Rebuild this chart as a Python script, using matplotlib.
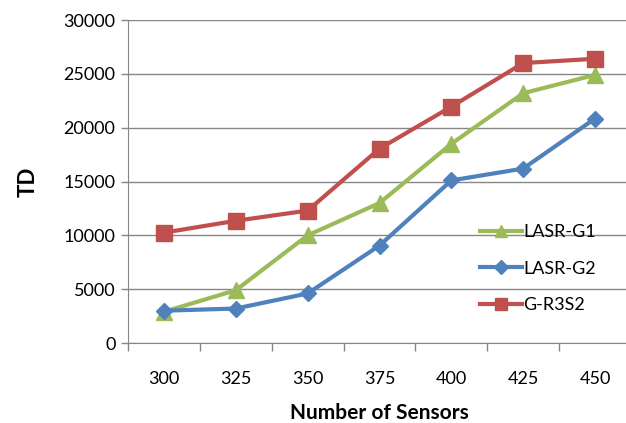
import matplotlib
matplotlib.use("Agg")
import matplotlib.pyplot as plt

plt.rcParams['font.family'] = ['Lato', 'DejaVu Sans']

# data
sensors = ["300", "325", "350", "375", "400", "425", "450"]
lasr_g1 = [2900, 4900, 10000, 13000, 18500, 23200, 24900]
lasr_g2 = [3000, 3200, 4600, 9050, 15100, 16200, 20850]
g_r3s2 = [10250, 11350, 12300, 18050, 21950, 26000, 26400]

fig = plt.figure(figsize=(6.26, 4.23), dpi=100)
# axes deliberately runs a little past the right edge, like the original
ax = fig.add_axes([128/626, 1 - 343/423, (631 - 128)/626, (343 - 20)/423])

x = list(range(len(sensors)))
grid_c = "#878787"

ax.plot(x, lasr_g1, color="#9BBB59", lw=3, marker="^", ms=11, label="LASR-G1", clip_on=False)
ax.plot(x, lasr_g2, color="#4F81BD", lw=3, marker="D", ms=8.5, label="LASR-G2", clip_on=False)
ax.plot(x, g_r3s2, color="#C0504D", lw=3, marker="s", ms=11, label="G-R3S2", clip_on=False)

ax.set_xlim(-0.5, len(sensors) - 0.5)
ax.set_ylim(0, 30000)
ax.set_yticks(range(0, 30001, 5000))
ax.yaxis.grid(True, color=grid_c, lw=1)
ax.set_axisbelow(True)

# category ticks sit between the labels
ax.set_xticks([i - 0.5 for i in range(len(sensors) + 1)])
ax.set_xticklabels([])
ax.set_xticks(x, minor=True)
ax.set_xticklabels(sensors, minor=True)
ax.tick_params(axis="x", which="major", length=6, color=grid_c, width=1)
ax.tick_params(axis="x", which="minor", length=0, pad=20, labelsize=13)
ax.tick_params(axis="y", length=5, color=grid_c, width=1, labelsize=13, pad=4)

for s in ["top", "right"]:
    ax.spines[s].set_visible(False)
for s in ["left", "bottom"]:
    ax.spines[s].set_color(grid_c)

ax.set_xlabel("Number of Sensors", fontsize=15, fontweight="bold", labelpad=12)
ax.set_ylabel("TD", fontsize=16, fontweight="bold", labelpad=18)

leg = ax.legend(loc="upper left", bbox_to_anchor=(0.70, 0.367), frameon=False,
                fontsize=13, handlelength=2.3, handletextpad=0.1, labelspacing=1.12,
                borderaxespad=0, borderpad=0, markerscale=0.85)

fig.savefig("out.png", dpi=100)
